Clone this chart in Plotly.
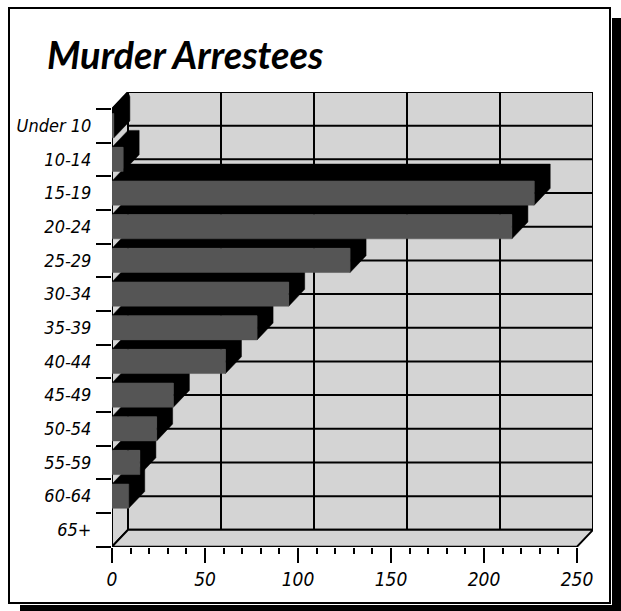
import plotly.graph_objects as go

# values
age_groups = ["Under 10", "10-14", "15-19", "20-24", "25-29", "30-34", "35-39",
              "40-44", "45-49", "50-54", "55-59", "60-64", "65+"]
arrestees = [1, 6, 227, 215, 128, 95, 78, 61, 33, 24, 15, 9, 0]
x_ticks = [0, 50, 100, 150, 200, 250]

W, H = 621, 611
L, R, T, B = 112, 28, 92, 64      # plot area margins (px)
DX, DY = 8.6, 0.5                 # fake 3d depth, in axis units
HALF = 0.36                       # half height of a bar face
XMAX = x_ticks[-1]
n = len(age_groups)
top, bottom = -0.5, n - 0.5

WALL = "#d4d4d4"
BAR = "#555555"
LABEL_FONT = "Liberation Sans Narrow, DejaVu Sans Condensed, Liberation Sans, sans-serif"

fig = go.Figure()


def poly(xs, ys, fill, outline=0):
    fig.add_trace(go.Scatter(
        x=xs + xs[:1], y=ys + ys[:1], mode="lines", fill="toself",
        fillcolor=fill,
        line=dict(color="black" if outline else fill, width=outline or 0.5),
        hoverinfo="skip", showlegend=False))


# back wall + its grid
poly([DX, XMAX + DX, XMAX + DX, DX], [top - DY, top - DY, bottom - DY, bottom - DY], WALL, 2)
gx, gy = [], []
for t in x_ticks[1:-1]:
    gx += [t + DX, t + DX, None]
    gy += [top - DY, bottom - DY, None]
for k in range(1, n):
    gx += [DX, XMAX + DX, None]
    gy += [top + k - DY, top + k - DY, None]
fig.add_trace(go.Scatter(x=gx, y=gy, mode="lines", line=dict(color="black", width=2),
                         hoverinfo="skip", showlegend=False))

# left wall and floor
poly([0, DX, DX, 0], [top, top - DY, bottom - DY, bottom], WALL, 2)
poly([0, XMAX, XMAX + DX, DX], [bottom, bottom, bottom - DY, bottom - DY], WALL, 2)

# bars, lowest first so upper faces sit on top
for i in reversed(range(n)):
    v = arrestees[i]
    if v <= 0:
        continue
    t, b = i - HALF, i + HALF
    # top of the first row is in shadow right up to the wall's edge
    t_top = top if i == 0 else t
    poly([0, DX, v + DX, v + DX, v, v, 0], [t_top, t_top - DY, t - DY, b - DY, b, t, t], "black")
    poly([0, v, v, 0], [t, t, b, b], BAR)


def px(x):
    return (x - L) / (W - L - R)


def py(y):
    return (H - B - y) / (H - T - B)


# frame with heavy drop shadow
fig.add_shape(type="rect", xref="paper", yref="paper", x0=px(612), x1=px(621), y0=py(18), y1=py(611),
              fillcolor="black", line_width=0, layer="below")
fig.add_shape(type="rect", xref="paper", yref="paper", x0=px(20), x1=px(621), y0=py(605), y1=py(611),
              fillcolor="black", line_width=0, layer="below")
fig.add_shape(type="rect", xref="paper", yref="paper", x0=px(9), x1=px(610), y0=py(8), y1=py(603),
              fillcolor="rgba(0,0,0,0)", line=dict(color="black", width=2))

fig.update_layout(
    width=W, height=H,
    margin=dict(l=L, r=R, t=T, b=B, pad=0),
    paper_bgcolor="white", plot_bgcolor="white",
    showlegend=False, hovermode=False,
    title=dict(text="Murder Arrestees", xref="container", yref="container",
               x=47 / W, xanchor="left", y=1 - 56 / H, yanchor="middle", automargin=False,
               font=dict(family="Lato, Open Sans, sans-serif", size=38, color="black",
                         weight="bold", style="italic")),
    xaxis=dict(range=[0, XMAX + DX], tickvals=x_ticks, ticks="outside", ticklen=15,
               tickwidth=2, tickcolor="black", showgrid=False, zeroline=False, showline=False,
               automargin=False,
               minor=dict(tickmode="linear", tick0=0, dtick=10, ticks="outside", ticklen=6,
                          tickwidth=1.5, tickcolor="black", showgrid=False),
               tickfont=dict(family=LABEL_FONT, size=19, color="black", style="italic")),
    yaxis=dict(range=[bottom + 0.01, top - DY], tickvals=list(range(n)), ticktext=age_groups,
               ticks="outside", ticklen=16, tickcolor="rgba(0,0,0,0)",
               showgrid=False, zeroline=False, showline=False, automargin=False,
               minor=dict(tickmode="linear", tick0=0.5, dtick=1, ticks="outside", ticklen=15,
                          tickwidth=2, tickcolor="black", showgrid=False),
               tickfont=dict(family=LABEL_FONT, size=18, color="black", style="italic")),
)

fig.write_html("out.html", post_script="document.body.style.margin='0';",
               config={"displayModeBar": False})
